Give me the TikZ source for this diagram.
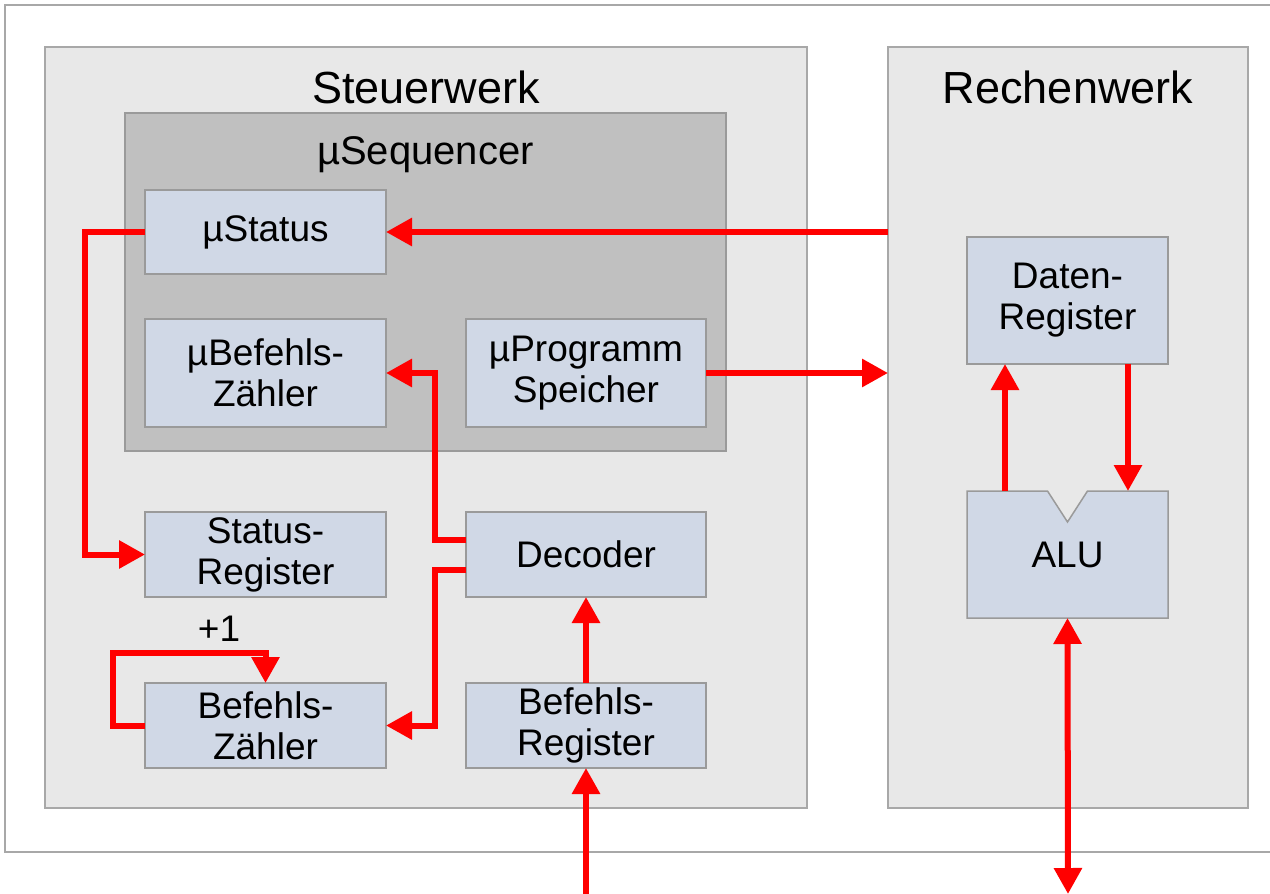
\documentclass[tikz,border=0pt]{standalone}
\usepackage{fontspec}
\setmainfont{Liberation Sans}
\usetikzlibrary{arrows.meta,calc}

\definecolor{unitfill}{HTML}{E8E8E8}
\definecolor{unitline}{HTML}{A8A8A8}
\definecolor{seqfill}{HTML}{C0C0C0}
\definecolor{regfill}{HTML}{D0D8E6}
\definecolor{regline}{HTML}{9A9A9A}
\definecolor{bus}{HTML}{FF0000}

\tikzset{
  unit/.style={draw=unitline, line width=2pt, fill=unitfill, inner sep=0pt, outer sep=0pt},
  seqbox/.style={draw=regline, line width=1.5pt, fill=seqfill, inner sep=0pt, outer sep=0pt},
  reg/.style={draw=regline, line width=1.5pt, fill=regfill, inner sep=0pt, outer sep=0pt,
    align=center, font=\fontsize{37}{41}\selectfont},
  title/.style={anchor=base, font=\fontsize{45}{54}\selectfont},
  subtitle/.style={anchor=base, font=\fontsize{40}{48}\selectfont},
  arr/.style={draw=bus, line width=6pt, -{Triangle[length=26pt,width=27pt]}},
  arrboth/.style={draw=bus, line width=6pt, {Triangle[length=26pt,width=27pt]}-{Triangle[length=26pt,width=27pt]}}
}

\begin{document}
\begin{tikzpicture}[x=1pt,y=-1pt]
  \useasboundingbox (0,0) rectangle (1270,894);

  % outer frame (open to the right)
  \draw[unitline, line width=2pt] (1272,5) -- (5,5) -- (5,852) -- (1272,852);

  % control unit and arithmetic unit
  \node[unit, minimum width=762pt, minimum height=761pt] (steuer) at (426,427.5) {};
  \node[unit, minimum width=360pt, minimum height=761pt] (rechen) at (1068,427.5) {};
  \node[title] (steuerT) at (426,103) {Steuerwerk};
  \node[title] (rechenT) at (1068,103) {Rechenwerk};

  % micro sequencer
  \node[seqbox, minimum width=601pt, minimum height=338pt] (seq) at (425.5,282) {};
  \node[subtitle] (seqT) at (425.5,164) {µSequencer};

  % registers
  \node[reg, minimum width=241pt, minimum height=84pt]  (ustatus) at (265.5,232)   {µStatus};
  \node[reg, minimum width=241pt, minimum height=108pt] (ubz)     at (265.5,373)   {µBefehls-\\Zähler};
  \node[reg, minimum width=240pt, minimum height=108pt] (uprog)   at (586,373)     {µProgramm\\Speicher};
  \node[reg, minimum width=241pt, minimum height=85pt]  (sreg)    at (265.5,554.5) {Status-\\Register};
  \node[reg, minimum width=240pt, minimum height=85pt]  (dec)     at (586,554.5)   {Decoder};
  \node[reg, minimum width=241pt, minimum height=85pt]  (bz)      at (265.5,725.5) {Befehls-\\Zähler};
  \node[reg, minimum width=240pt, minimum height=85pt]  (breg)    at (586,725.5)   {Befehls-\\Register};
  \node[reg, minimum width=201pt, minimum height=127pt] (dreg)    at (1067.5,300.5) {Daten-\\Register};

  % ALU with notched top edge
  \node[reg, draw=none, fill=none, minimum width=201pt, minimum height=127pt] (alu) at (1067.5,554.5) {};
  \filldraw[draw=regline, line width=1.5pt, fill=regfill]
    (alu.north west) -- ($(alu.north)+(-20,0)$) -- ($(alu.north)+(0,31)$) -- ($(alu.north)+(20,0)$)
    -- (alu.north east) -- (alu.south east) -- (alu.south west) -- cycle;
  \node[font=\fontsize{37}{41}\selectfont] (aluT) at (alu.center) {ALU};

  % connections
  \draw[arr] (ustatus.east -| rechen.west) -- (ustatus.east);
  \draw[arr] (ustatus.west) -- ++(-60,0) |- (sreg.west);
  \draw[arr] (uprog.east) -- (uprog.east -| rechen.west);
  \draw[arr] ($(dec.west)+(0,-15)$) -- ++(-31,0) |- (ubz.east);
  \draw[arr] ($(dec.west)+(0,15)$) -- ++(-31,0) |- (bz.east);
  \draw[arr] (bz.west) -- ++(-32,0) -- ++(0,-73) -| (bz.north);
  \node[anchor=base, font=\fontsize{37}{41}\selectfont] (inc) at (219,641) {+1};
  \draw[arr] (breg.north) -- (dec.south);
  \coordinate (busin) at (586,894);
  \draw[arr] (busin) -- (breg.south);
  \draw[arr] ($(alu.north west)+(38,0)$) -- ($(dreg.south west)+(38,0)$);
  \draw[arr] ($(dreg.south east)+(-40,0)$) -- ($(alu.north east)+(-40,0)$);
  \coordinate (busout) at (1068,894);
  \draw[arrboth] (alu.south) -- (busout);
\end{tikzpicture}
\end{document}
